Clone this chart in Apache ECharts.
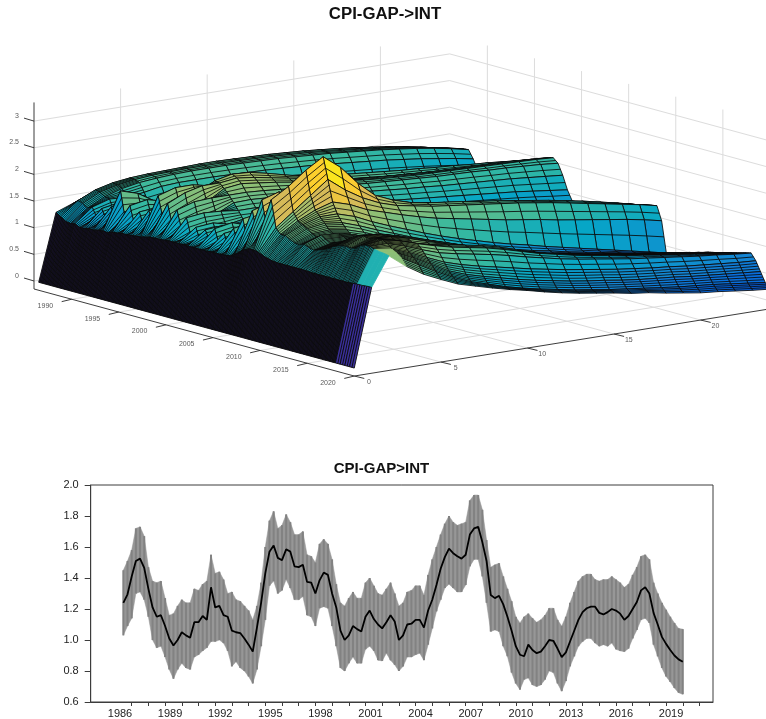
<!DOCTYPE html>
<html>
<head>
<meta charset="utf-8">
<style>html,body{margin:0;padding:0;background:#fff}#c{width:766px;height:719px}</style>
<script src="https://cdn.jsdelivr.net/npm/echarts@6/dist/echarts.min.js"></script>
</head>
<body>
<div id="c"></div>
<script>
// ---------- lower panel ----------
var bandHi=[1.45,1.51,1.58,1.72,1.73,1.67,1.47,1.38,1.37,1.38,1.27,1.16,1.17,1.22,1.26,1.24,1.24,1.33,1.32,1.36,1.38,1.55,1.43,1.44,1.39,1.30,1.31,1.26,1.25,1.22,1.19,1.13,1.22,1.37,1.60,1.77,1.83,1.72,1.74,1.81,1.76,1.68,1.68,1.70,1.55,1.54,1.50,1.62,1.65,1.62,1.52,1.36,1.24,1.22,1.27,1.31,1.27,1.27,1.37,1.40,1.35,1.30,1.29,1.33,
1.37,1.30,1.22,1.24,1.31,1.32,1.35,1.35,1.29,1.42,1.52,1.60,1.68,1.75,1.80,1.76,1.74,1.75,1.76,1.90,1.935,1.935,1.84,1.645,1.47,1.485,1.495,1.41,1.33,1.25,1.15,1.11,1.15,1.17,1.14,1.115,1.13,1.16,1.205,1.205,1.13,1.09,1.15,1.24,1.31,1.38,1.41,1.425,1.425,1.39,1.38,1.39,1.39,1.41,1.39,1.37,1.34,1.36,1.42,1.47,1.54,1.55,1.52,1.37,1.30,1.24,1.195,1.15,1.11,1.075,1.07];
var bandLo=[1.03,1.09,1.14,1.30,1.31,1.26,1.15,1.0,0.95,0.96,0.89,0.81,0.75,0.81,0.85,0.82,0.81,0.89,0.905,0.93,0.95,0.99,0.99,1.0,0.98,0.93,0.83,0.86,0.82,0.80,0.765,0.72,0.81,0.96,1.13,1.35,1.38,1.30,1.32,1.39,1.335,1.26,1.26,1.28,1.16,1.15,1.09,1.205,1.215,1.205,1.09,0.96,0.82,0.80,0.85,0.89,0.85,0.85,0.94,0.96,0.93,0.87,0.865,0.915,
0.87,0.84,0.80,0.83,0.89,0.89,0.905,0.915,0.87,0.97,1.075,1.185,1.26,1.335,1.36,1.335,1.31,1.31,1.355,1.475,1.52,1.52,1.41,1.24,1.055,1.065,1.055,0.96,0.895,0.79,0.72,0.68,0.745,0.755,0.71,0.70,0.71,0.745,0.80,0.79,0.72,0.67,0.735,0.83,0.895,0.96,0.99,1.01,1.01,0.98,0.96,0.97,0.96,0.98,0.94,0.93,0.925,0.945,1.01,1.065,1.13,1.14,1.11,0.97,0.895,0.82,0.765,0.73,0.69,0.66,0.65];
var midLine=[1.24,1.295,1.41,1.51,1.525,1.465,1.33,1.21,1.15,1.16,1.09,1.01,0.965,1.0,1.05,1.03,1.015,1.115,1.115,1.155,1.13,1.34,1.21,1.22,1.16,1.15,1.06,1.05,1.045,1.01,0.97,0.925,1.08,1.24,1.43,1.57,1.61,1.53,1.515,1.585,1.57,1.475,1.47,1.485,1.375,1.37,1.30,1.385,1.435,1.42,1.30,1.21,1.06,1.0,1.03,1.09,1.07,1.055,1.15,1.19,1.135,1.10,1.075,1.115,
1.16,1.12,1.0,1.03,1.10,1.105,1.13,1.13,1.08,1.19,1.26,1.355,1.46,1.535,1.59,1.56,1.54,1.525,1.55,1.68,1.72,1.73,1.63,1.51,1.29,1.27,1.285,1.23,1.15,1.06,0.96,0.905,0.895,0.97,0.935,0.915,0.925,0.96,1.0,0.995,0.945,0.89,0.92,0.99,1.06,1.13,1.18,1.205,1.215,1.215,1.175,1.165,1.18,1.20,1.19,1.17,1.13,1.155,1.20,1.245,1.32,1.34,1.30,1.175,1.10,1.02,0.975,0.935,0.90,0.875,0.86];
var lowerLabelYears=[1986,1989,1992,1995,1998,2001,2004,2007,2010,2013,2016,2019];
var lowerTickYears=[1987,1988,1989,1990,1991,1992,1993,1994,1995,1996,1997,1998,1999,2000,2001,2002,2003,2004,2005,2006,2007,2008,2009,2010,2011,2012,2013,2014,2015,2016,2017,2018,2019,2020,2021];
var lowerYTicks=[0.6,0.8,1.0,1.2,1.4,1.6,1.8,2.0];

// ---------- upper panel: rows are half-year steps 1986.5..2020, columns horizon 1..24 ----------
var surfaceRows=[
[1.26,1.38,1.50,1.58,1.63,1.66,1.68,1.70,1.71,1.71,1.71,1.70,1.69,1.67,1.65,1.63,1.60,1.57,1.53,1.49,1.44,1.38,1.31,1.24],
[1.20,1.45,1.60,1.68,1.72,1.74,1.75,1.76,1.77,1.77,1.76,1.75,1.74,1.72,1.70,1.67,1.64,1.60,1.56,1.51,1.46,1.40,1.33,1.27],
[1.14,1.42,1.58,1.66,1.71,1.74,1.75,1.76,1.76,1.76,1.75,1.74,1.73,1.71,1.69,1.66,1.63,1.60,1.56,1.52,1.47,1.42,1.36,1.29],
[1.12,1.36,1.52,1.62,1.68,1.71,1.73,1.74,1.74,1.74,1.73,1.72,1.71,1.69,1.67,1.65,1.62,1.59,1.56,1.52,1.48,1.43,1.37,1.30],
[1.14,1.40,1.50,1.48,1.52,1.58,1.60,1.60,1.60,1.59,1.58,1.57,1.55,1.53,1.51,1.48,1.45,1.42,1.39,1.35,1.31,1.26,1.21,1.15],
[1.10,1.22,1.26,1.28,1.34,1.37,1.37,1.37,1.36,1.35,1.33,1.31,1.29,1.26,1.23,1.20,1.17,1.14,1.11,1.08,1.05,1.02,.98,.95],
[1.10,1.42,1.48,1.38,1.32,1.32,1.32,1.32,1.31,1.30,1.29,1.27,1.25,1.23,1.21,1.19,1.16,1.14,1.12,1.09,1.07,1.05,1.02,.99],
[1.12,1.24,1.28,1.30,1.33,1.34,1.34,1.34,1.33,1.32,1.31,1.30,1.28,1.26,1.24,1.22,1.20,1.18,1.16,1.14,1.11,1.09,1.06,1.03],
[1.12,1.50,1.55,1.45,1.38,1.38,1.37,1.37,1.36,1.35,1.34,1.33,1.31,1.30,1.28,1.26,1.24,1.22,1.20,1.18,1.15,1.13,1.10,1.07],
[1.14,1.28,1.32,1.36,1.42,1.44,1.43,1.42,1.41,1.40,1.39,1.37,1.36,1.34,1.32,1.30,1.28,1.26,1.24,1.22,1.19,1.17,1.14,1.11],
[1.15,1.85,1.75,1.55,1.50,1.50,1.48,1.47,1.46,1.44,1.43,1.41,1.40,1.38,1.36,1.34,1.32,1.30,1.28,1.26,1.23,1.21,1.18,1.15],
[1.14,1.35,1.42,1.46,1.52,1.56,1.52,1.50,1.49,1.48,1.46,1.45,1.43,1.41,1.39,1.37,1.35,1.33,1.31,1.29,1.27,1.25,1.22,1.19],
[1.18,1.62,1.68,1.60,1.54,1.54,1.50,1.49,1.48,1.47,1.46,1.45,1.44,1.42,1.40,1.38,1.37,1.35,1.33,1.32,1.30,1.28,1.26,1.23],
[1.18,1.28,1.34,1.38,1.42,1.42,1.40,1.40,1.40,1.40,1.40,1.39,1.39,1.38,1.37,1.36,1.35,1.34,1.33,1.32,1.31,1.30,1.28,1.27],
[1.20,1.55,1.58,1.48,1.38,1.37,1.36,1.36,1.37,1.37,1.37,1.37,1.37,1.37,1.36,1.36,1.36,1.35,1.35,1.34,1.34,1.33,1.32,1.31],
[1.20,1.28,1.32,1.34,1.36,1.35,1.34,1.35,1.36,1.37,1.38,1.38,1.39,1.39,1.39,1.39,1.39,1.39,1.38,1.38,1.37,1.37,1.36,1.35],
[1.21,1.62,1.66,1.58,1.48,1.47,1.47,1.47,1.48,1.48,1.48,1.48,1.48,1.48,1.47,1.47,1.46,1.46,1.45,1.44,1.43,1.42,1.41,1.39],
[1.22,1.42,1.55,1.65,1.72,1.75,1.78,1.75,1.73,1.71,1.70,1.68,1.67,1.65,1.63,1.62,1.60,1.58,1.56,1.54,1.52,1.50,1.47,1.44],
[1.23,1.95,2.05,2.05,1.98,2.00,2.06,2.00,1.95,1.90,1.86,1.82,1.78,1.75,1.72,1.69,1.67,1.64,1.62,1.59,1.57,1.54,1.51,1.48],
[1.25,1.55,1.72,1.90,2.10,2.17,2.15,2.08,2.00,1.92,1.85,1.78,1.72,1.69,1.66,1.64,1.62,1.60,1.58,1.57,1.56,1.55,1.54,1.52],
[1.27,1.85,2.00,2.08,2.08,2.12,2.08,2.02,1.96,1.90,1.84,1.79,1.74,1.71,1.69,1.67,1.65,1.64,1.63,1.62,1.61,1.60,1.58,1.56],
[1.28,1.48,1.62,1.80,2.00,2.04,2.00,1.96,1.91,1.86,1.82,1.78,1.74,1.71,1.69,1.67,1.66,1.65,1.64,1.63,1.62,1.61,1.60,1.58],
[1.28,1.78,1.88,1.90,1.90,1.90,1.88,1.85,1.82,1.79,1.76,1.73,1.70,1.68,1.66,1.64,1.62,1.61,1.60,1.58,1.57,1.55,1.53,1.50],
[1.29,1.42,1.52,1.62,1.78,1.79,1.77,1.74,1.70,1.67,1.64,1.61,1.58,1.55,1.52,1.50,1.47,1.45,1.43,1.41,1.39,1.36,1.33,1.30],
[1.30,1.68,1.72,1.70,1.66,1.66,1.64,1.60,1.56,1.52,1.49,1.45,1.42,1.38,1.35,1.32,1.29,1.26,1.23,1.20,1.17,1.13,1.09,1.05],
[1.30,1.35,1.42,1.46,1.52,1.50,1.48,1.44,1.40,1.36,1.32,1.28,1.24,1.20,1.17,1.13,1.10,1.06,1.03,1.00,.97,.94,.90,.87],
[1.30,1.55,1.58,1.50,1.40,1.38,1.36,1.33,1.30,1.27,1.24,1.21,1.18,1.15,1.12,1.09,1.07,1.04,1.01,.98,.96,.93,.90,.87],
[1.30,1.30,1.32,1.33,1.35,1.33,1.31,1.29,1.27,1.25,1.22,1.20,1.18,1.15,1.13,1.10,1.08,1.05,1.03,1.00,.98,.95,.92,.89],
[1.30,1.55,1.58,1.50,1.40,1.38,1.36,1.34,1.32,1.29,1.27,1.24,1.21,1.19,1.16,1.13,1.11,1.08,1.06,1.03,1.00,.97,.94,.91],
[1.30,1.35,1.40,1.42,1.46,1.44,1.41,1.38,1.35,1.32,1.29,1.26,1.23,1.21,1.18,1.15,1.12,1.10,1.07,1.05,1.02,.99,.96,.93],
[1.30,1.62,1.68,1.58,1.48,1.44,1.41,1.38,1.35,1.33,1.30,1.27,1.25,1.22,1.19,1.17,1.14,1.12,1.09,1.07,1.04,1.01,.98,.95],
[1.30,1.34,1.38,1.40,1.44,1.43,1.40,1.38,1.36,1.33,1.31,1.28,1.26,1.24,1.21,1.19,1.16,1.14,1.11,1.09,1.06,1.03,1.00,.97],
[1.30,1.58,1.62,1.54,1.42,1.40,1.38,1.36,1.34,1.32,1.30,1.28,1.26,1.24,1.22,1.20,1.18,1.15,1.13,1.11,1.08,1.05,1.02,.99],
[1.31,1.32,1.36,1.38,1.40,1.37,1.34,1.32,1.31,1.29,1.28,1.26,1.25,1.23,1.21,1.20,1.18,1.16,1.14,1.12,1.10,1.07,1.04,1.01],
[1.31,1.72,1.78,1.65,1.46,1.42,1.38,1.36,1.34,1.32,1.31,1.29,1.27,1.26,1.24,1.22,1.20,1.18,1.16,1.14,1.12,1.09,1.06,1.03],
[1.31,1.42,1.48,1.50,1.52,1.50,1.46,1.43,1.40,1.38,1.36,1.34,1.32,1.30,1.28,1.26,1.24,1.22,1.20,1.18,1.15,1.13,1.09,1.05],
[1.32,1.95,2.00,1.90,1.68,1.62,1.60,1.55,1.50,1.46,1.43,1.40,1.38,1.35,1.33,1.31,1.29,1.27,1.25,1.22,1.19,1.16,1.12,1.07],
[1.33,1.52,1.62,1.66,1.70,1.72,1.74,1.70,1.64,1.58,1.53,1.49,1.46,1.43,1.40,1.38,1.35,1.32,1.29,1.26,1.23,1.19,1.14,1.09],
[1.38,2.15,2.25,2.10,1.88,1.84,1.86,1.82,1.77,1.70,1.64,1.58,1.54,1.50,1.47,1.44,1.41,1.38,1.34,1.31,1.27,1.22,1.17,1.11],
[1.45,1.72,1.82,1.88,1.92,1.96,1.98,1.95,1.88,1.82,1.75,1.69,1.64,1.59,1.55,1.51,1.47,1.44,1.40,1.36,1.31,1.26,1.20,1.13],
[1.52,2.40,2.50,2.35,2.25,2.10,2.05,2.00,1.96,1.90,1.85,1.79,1.73,1.68,1.63,1.59,1.54,1.50,1.45,1.40,1.35,1.29,1.22,1.15],
[1.56,1.95,2.20,2.55,2.85,2.55,2.30,2.12,2.03,1.96,1.89,1.84,1.79,1.74,1.70,1.65,1.60,1.55,1.50,1.44,1.38,1.31,1.24,1.17],
[1.56,2.45,2.65,2.90,3.10,2.85,2.50,2.22,2.08,1.98,1.92,1.88,1.84,1.79,1.75,1.70,1.65,1.60,1.54,1.48,1.41,1.34,1.26,1.19],
[1.54,1.95,2.20,2.45,2.70,2.45,2.25,2.10,2.00,1.94,1.88,1.84,1.80,1.76,1.72,1.68,1.63,1.58,1.52,1.46,1.40,1.34,1.28,1.21],
[1.50,1.85,2.05,2.20,2.30,2.20,2.05,1.95,1.85,1.76,1.68,1.62,1.56,1.50,1.44,1.39,1.34,1.28,1.23,1.18,1.13,1.08,1.02,.95],
[1.47,1.85,2.00,2.10,2.10,2.00,1.85,1.72,1.60,1.48,1.37,1.27,1.18,1.09,1.01,.94,.86,.79,.72,.65,.58,.51,.44,.37],
[1.45,1.80,1.95,2.00,1.96,1.85,1.72,1.60,1.48,1.37,1.27,1.17,1.08,1.00,.93,.86,.80,.73,.67,.61,.55,.49,.44,.39],
[1.44,1.76,1.88,1.90,1.85,1.75,1.62,1.50,1.39,1.29,1.20,1.11,1.03,.96,.89,.83,.77,.72,.66,.61,.56,.51,.46,.42],
[1.44,1.75,1.84,1.84,1.78,1.68,1.56,1.45,1.35,1.25,1.16,1.08,1.01,.94,.88,.82,.77,.72,.67,.62,.58,.53,.49,.44],
[1.44,1.78,1.90,1.88,1.80,1.68,1.56,1.45,1.34,1.25,1.16,1.09,1.02,.95,.89,.84,.79,.74,.69,.65,.60,.56,.51,.47],
[1.44,1.75,1.85,1.84,1.76,1.66,1.55,1.44,1.34,1.25,1.17,1.10,1.03,.97,.91,.86,.81,.76,.72,.67,.63,.58,.54,.50],
[1.44,1.72,1.80,1.80,1.74,1.64,1.54,1.43,1.33,1.25,1.17,1.10,1.04,.98,.93,.88,.83,.78,.74,.70,.65,.61,.57,.52],
[1.44,1.75,1.83,1.80,1.73,1.64,1.54,1.44,1.35,1.27,1.20,1.13,1.07,1.01,.96,.91,.86,.81,.77,.72,.68,.64,.59,.55],
[1.44,1.78,1.86,1.84,1.76,1.66,1.56,1.46,1.37,1.29,1.22,1.15,1.09,1.03,.98,.93,.88,.83,.79,.74,.70,.66,.61,.57],
[1.43,1.82,1.92,1.90,1.82,1.72,1.62,1.52,1.43,1.34,1.27,1.20,1.13,1.07,1.01,.96,.91,.86,.82,.77,.73,.69,.64,.60],
[1.43,1.88,1.98,1.96,1.88,1.78,1.68,1.58,1.49,1.40,1.32,1.25,1.18,1.12,1.06,1.00,.95,.90,.85,.80,.76,.71,.67,.62],
[1.43,1.92,2.04,2.02,1.94,1.84,1.74,1.64,1.54,1.45,1.36,1.28,1.21,1.15,1.08,1.03,.97,.92,.87,.82,.78,.73,.69,.64],
[1.43,1.95,2.08,2.06,1.98,1.88,1.78,1.68,1.58,1.48,1.39,1.31,1.24,1.17,1.11,1.05,.99,.94,.89,.84,.80,.75,.71,.66],
[1.43,1.96,2.10,2.08,2.00,1.90,1.80,1.70,1.60,1.50,1.41,1.33,1.26,1.19,1.13,1.07,1.01,.96,.91,.86,.82,.78,.73,.69],
[1.43,1.95,2.08,2.06,1.98,1.88,1.78,1.68,1.58,1.49,1.41,1.33,1.26,1.20,1.14,1.08,1.03,.98,.93,.88,.84,.79,.75,.71],
[1.43,1.98,2.10,2.08,2.00,1.90,1.80,1.70,1.62,1.53,1.44,1.36,1.29,1.22,1.16,1.10,1.05,1.00,.95,.90,.86,.81,.77,.73],
[1.43,2.05,2.12,2.04,1.94,1.86,1.80,1.74,1.68,1.60,1.50,1.40,1.32,1.25,1.19,1.13,1.08,1.03,.98,.93,.88,.84,.79,.75],
[1.43,2.08,2.12,2.05,1.95,1.86,1.78,1.72,1.66,1.58,1.49,1.40,1.33,1.26,1.20,1.15,1.09,1.05,1.00,.95,.91,.86,.82,.78],
[1.44,2.08,2.08,1.98,1.86,1.75,1.68,1.62,1.56,1.49,1.41,1.34,1.27,1.21,1.16,1.11,1.06,1.02,.98,.94,.90,.87,.83,.80],
[1.45,2.05,2.00,1.88,1.74,1.60,1.50,1.42,1.35,1.28,1.21,1.15,1.09,1.04,.99,.94,.90,.86,.83,.79,.76,.73,.70,.68],
[1.45,2.03,1.95,1.80,1.63,1.46,1.34,1.25,1.17,1.09,1.02,.96,.90,.85,.81,.76,.72,.69,.66,.62,.59,.56,.53,.50],
[1.46,2.02,1.88,1.70,1.52,1.36,1.23,1.13,1.03,.95,.88,.82,.76,.71,.66,.62,.58,.54,.50,.47,.44,.40,.36,.32],
[1.46,2.00,1.75,1.55,1.40,1.26,1.17,1.08,1.00,.93,.85,.78,.72,.67,.62,.56,.52,.46,.41,.36,.33,.29,.25,.22]
];
var upperZTicks=[0,0.5,1,1.5,2,2.5,3];
var upperYearTicks=[1990,1995,2000,2005,2010,2015,2020];
var upperHorizonTicks=[0,5,10,15,20];

// ---------- style / view ----------
var FIRST_QUARTER=1986.5, ROW_STEP=0.5;
var view={x0:34,y0:281,xYear:9.42,yYear:2.56,xH:17.32,yH:-2.8,yZ:-53.3,
  yearMin:1986,yearMax:2020,hMax:24,zMin:-0.15,zMax:3.35,colorMax:3.3};
var parula=[[53,42,135],[3,99,225],[20,133,212],[6,167,198],[56,185,158],[146,191,115],[217,186,86],[252,206,46],[249,251,14]];
function parulaColor(z){
  var t=Math.max(0,Math.min(0.9999,z/view.colorMax))*(parula.length-1),i=Math.floor(t),f=t-i,a=parula[i],b=parula[i+1];
  return 'rgb('+[0,1,2].map(function(k){return Math.round(a[k]+(b[k]-a[k])*f);}).join(',')+')';
}
function project(year,h,z){
  return [view.x0+(year-view.yearMin)*view.xYear+h*view.xH,
          view.y0+(year-view.yearMin)*view.yYear+h*view.yH+z*view.yZ];
}
var quarters=bandHi.map(function(_,i){return FIRST_QUARTER+i*0.25;});
function rowYear(r){return FIRST_QUARTER+r*ROW_STEP;}
function surfZ(r,c){return c===0?0:surfaceRows[r][c-1];}

// scene items
var sceneBack=[];
upperZTicks.forEach(function(z){
  sceneBack.push([[view.yearMin,0,z],[view.yearMin,view.hMax,z]]);
  sceneBack.push([[view.yearMin,view.hMax,z],[view.yearMax,view.hMax,z]]);
});
upperHorizonTicks.forEach(function(h){
  if(h>0)sceneBack.push([[view.yearMin,h,view.zMin],[view.yearMin,h,view.zMax]]);
  if(h>0)sceneBack.push([[view.yearMin,h,view.zMin],[view.yearMax,h,view.zMin]]);
});
upperYearTicks.forEach(function(y){
  sceneBack.push([[y,view.hMax,view.zMin],[y,view.hMax,view.zMax]]);
  if(y<view.yearMax)sceneBack.push([[y,0,view.zMin],[y,view.hMax,view.zMin]]);
});
var cells=[];
for(var r=0;r<surfaceRows.length-1;r++)for(var c=23;c>=0;c--)cells.push([r,c]);

function segItem(colorVal,width){
  return function(params,api){
    var s=sceneBack[params.dataIndex],a=project.apply(null,s[0]),b=project.apply(null,s[1]),
        p=api.coord(a),q=api.coord(b);
    return {type:'line',shape:{x1:p[0],y1:p[1],x2:q[0],y2:q[1]},style:{stroke:colorVal,lineWidth:width}};
  };
}
function axisItems(params,api){
  var kids=[],Z=view.zMin,ink='#262626',txt='#5a5a5a';
  function ln(a,b,w){var p=api.coord(a),q=api.coord(b);kids.push({type:'line',shape:{x1:p[0],y1:p[1],x2:q[0],y2:q[1]},style:{stroke:ink,lineWidth:w||0.9}});}
  function tx(t,pt,dx,dy,al){var p=api.coord(pt);kids.push({type:'text',style:{text:t,x:p[0]+dx,y:p[1]+dy,fill:txt,fontSize:7,fontFamily:'Liberation Sans',align:al||'center',verticalAlign:'middle'}});}
  ln(project(view.yearMin,0,Z),project(view.yearMin,0,view.zMax));
  ln(project(view.yearMin,0,Z),project(view.yearMax,0,Z));
  ln(project(view.yearMax,0,Z),project(view.yearMax,view.hMax,Z));
  upperZTicks.forEach(function(z){var p=project(view.yearMin,0,z);ln([p[0]-10,p[1]-3],p);tx(String(z),p,-15,-5.3,'right');});
  upperYearTicks.forEach(function(y){var p=project(y,0,Z);ln([p[0]-10,p[1]+2.4],p);tx(String(y),p,-26.3,6.7);});
  upperHorizonTicks.forEach(function(h){var p=project(view.yearMax,h,Z);ln(p,[p[0]+10,p[1]+2.4]);tx(String(h),p,14.7,6.3);});
  return {type:'group',children:kids};
}
function surfaceItem(params,api){
  var cell=cells[params.dataIndex],i=cell[0],j=cell[1],y0=rowYear(i),y1=rowYear(i+1);
  var pts=[project(y0,j,surfZ(i,j)),project(y0,j+1,surfZ(i,j+1)),project(y1,j+1,surfZ(i+1,j+1)),project(y1,j,surfZ(i+1,j))].map(function(p){return api.coord(p);});
  var z=surfZ(i,j),fill=parulaColor(z),ink='#0a0a0a';
  var lastYears=y0>=2018.5;
  if(j===0)fill=(y0<2018)?'#1b1535':'#3a2f9a';
  var lw=j===0?0.9:0.85;
  // mesh rulings inside each facet, along the horizon direction
  var rulings=j===0?(y0<2018?3:1):(j<=2&&lastYears)?0:(j<=4||lastYears)?3:1;
  var stroke=(j>=1&&j<=2&&lastYears)?fill:ink;
  var kids=[{type:'polygon',shape:{points:pts},style:{fill:fill,stroke:stroke,lineWidth:lw,lineJoin:'round'}}];
  for(var k=1;k<=rulings;k++){
    var t=k/(rulings+1);
    kids.push({type:'line',shape:{
      x1:pts[0][0]+(pts[3][0]-pts[0][0])*t,y1:pts[0][1]+(pts[3][1]-pts[0][1])*t,
      x2:pts[1][0]+(pts[2][0]-pts[1][0])*t,y2:pts[1][1]+(pts[2][1]-pts[1][1])*t},
      style:{stroke:ink,lineWidth:lw}});
  }
  return {type:'group',children:kids};
}
function bandItem(params,api){
  var i=params.dataIndex,kids=[];
  var top=api.coord([quarters[i],bandHi[i]]),bot=api.coord([quarters[i],bandLo[i]]);
  if(i<quarters.length-1){
    var t2=api.coord([quarters[i+1],bandHi[i+1]]),b2=api.coord([quarters[i+1],bandLo[i+1]]);
    kids.push({type:'polygon',shape:{points:[top,t2,b2,bot]},style:{fill:'#979797',stroke:'#979797',lineWidth:0.5}});
  }
  kids.push({type:'line',shape:{x1:top[0],y1:top[1],x2:bot[0],y2:bot[1]},style:{stroke:'#828282',lineWidth:2}});
  return {type:'group',children:kids};
}

var chart=echarts.init(document.getElementById('c'),null,{renderer:'canvas'});
chart.setOption({
  animation:false,
  backgroundColor:'#fff',
  title:[
    {text:'CPI-GAP->INT',left:380,top:1,textAlign:'center',textStyle:{fontFamily:'Liberation Sans',fontSize:16.8,fontWeight:'bold',color:'#111'}},
    {text:'CPI-GAP>INT',left:376.5,top:456,textAlign:'center',textStyle:{fontFamily:'Liberation Sans',fontSize:15,fontWeight:'bold',color:'#111'}}
  ],
  grid:[
    {left:90.7,top:485,width:622.3,height:217.3,show:true,borderColor:'#3c3c3c',borderWidth:1,backgroundColor:'transparent'},
    {left:0,top:0,width:766,height:719,show:false}
  ],
  xAxis:[
    {type:'value',gridIndex:0,min:1984.545,max:2021.81,splitLine:{show:false},
      axisLine:{show:true,onZero:false,lineStyle:{color:'#3c3c3c'}},
      axisTick:{show:true,length:4,customValues:lowerTickYears,lineStyle:{color:'#3c3c3c'}},
      axisLabel:{show:true,margin:6,fontFamily:'Liberation Sans',fontSize:11,color:'#222',
        customValues:lowerLabelYears.map(function(y){return y+0.3;}),
        formatter:function(v){return String(Math.floor(v));}}},
    {type:'value',gridIndex:1,min:0,max:766,show:false}
  ],
  yAxis:[
    {type:'value',gridIndex:0,min:0.6,max:2.0,splitLine:{show:false},
      axisLine:{show:true,lineStyle:{color:'#3c3c3c'}},
      axisTick:{show:true,length:6,customValues:lowerYTicks,lineStyle:{color:'#3c3c3c'}},
      axisLabel:{show:true,margin:12,fontFamily:'Liberation Sans',fontSize:11,color:'#222',padding:[0,0,6,0],
        customValues:lowerYTicks,formatter:function(v){return v.toFixed(1);}}},
    {type:'value',gridIndex:1,min:0,max:719,inverse:true,show:false}
  ],
  series:[
    {type:'custom',name:'grid3d',xAxisIndex:1,yAxisIndex:1,silent:true,progressive:0,clip:false,
      data:sceneBack.map(function(_,i){return [i];}),renderItem:segItem('#dcdcdc',1)},
    {type:'custom',name:'surface',xAxisIndex:1,yAxisIndex:1,silent:true,progressive:0,clip:false,
      data:cells.map(function(_,i){return [i];}),renderItem:surfaceItem},
    {type:'custom',name:'axes3d',xAxisIndex:1,yAxisIndex:1,silent:true,progressive:0,clip:false,
      data:[[0]],renderItem:axisItems},
    {type:'custom',name:'band',xAxisIndex:0,yAxisIndex:0,silent:true,progressive:0,
      data:quarters.map(function(q,i){return [q,bandHi[i],bandLo[i]];}),renderItem:bandItem},
    {type:'line',name:'CPI-GAP>INT',xAxisIndex:0,yAxisIndex:0,showSymbol:false,silent:true,
      lineStyle:{color:'#000',width:1.8},
      data:quarters.map(function(q,i){return [q,midLine[i]];})}
  ]
});
</script>
</body>
</html>
